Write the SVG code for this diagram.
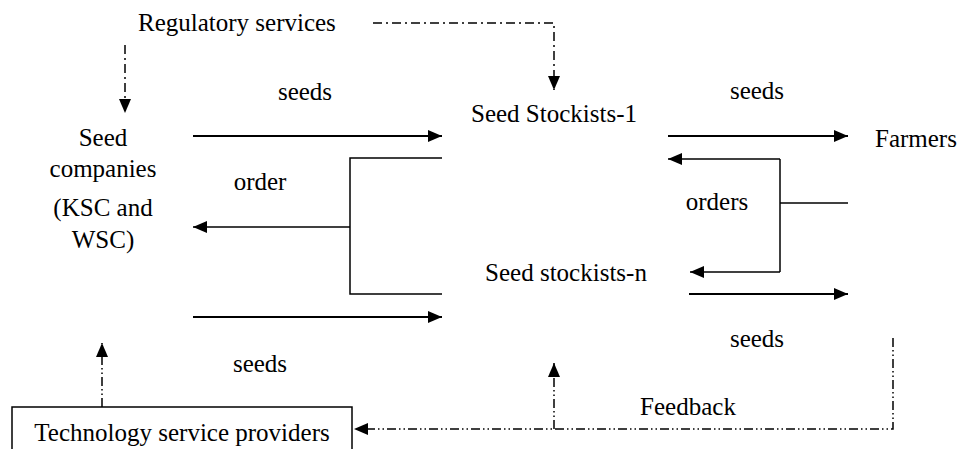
<svg xmlns="http://www.w3.org/2000/svg" width="958" height="449" viewBox="0 0 958 449">
<style>
text{font-family:'Liberation Serif','Times New Roman',Times,serif;font-size:25px;fill:#000}
.s{stroke:#000;stroke-width:2;fill:none}
.t{stroke:#000;stroke-width:1.5;fill:none}
.d{stroke:#000;stroke-width:1.5;fill:none;stroke-dasharray:9 4 2 4}
.dd{stroke:#000;stroke-width:1.5;fill:none;stroke-dasharray:9 3 1.5 3 1.5 3}
</style>
<defs>
<marker id="ah" viewBox="0 0 14 12" refX="14" refY="6" markerWidth="14" markerHeight="12" markerUnits="userSpaceOnUse" orient="auto">
<path d="M0,0 L14,6 L0,12 z" fill="#000"/>
</marker>
</defs>
<rect width="958" height="449" fill="#fff"/>
<g font-family="Liberation Serif, Times New Roman, serif">
<g id="regulatory"><text x="138" y="31">Regulatory services</text></g>
<g id="seed-companies">
<text x="103" y="146" text-anchor="middle">Seed</text>
<text x="103" y="177" text-anchor="middle">companies</text>
<text x="103" y="216" text-anchor="middle">(KSC and</text>
<text x="103" y="248" text-anchor="middle">WSC)</text>
</g>
<g id="stockists-1"><text x="554" y="122" text-anchor="middle">Seed Stockists-1</text></g>
<g id="stockists-n"><text x="566" y="281" text-anchor="middle">Seed stockists-n</text></g>
<g id="farmers"><text x="875" y="147">Farmers</text></g>
<g id="tech">
<rect x="12" y="407" width="340" height="60" fill="none" stroke="#000" stroke-width="1.5"/>
<text x="182" y="441" text-anchor="middle">Technology service providers</text>
</g>
<g id="labels">
<text x="305" y="100" text-anchor="middle">seeds</text>
<text x="260" y="190" text-anchor="middle">order</text>
<text x="260" y="372" text-anchor="middle">seeds</text>
<text x="757" y="99" text-anchor="middle">seeds</text>
<text x="717" y="210" text-anchor="middle">orders</text>
<text x="757" y="347" text-anchor="middle">seeds</text>
<text x="688" y="415" text-anchor="middle">Feedback</text>
</g>
</g>
<g id="connectors">
<line class="s" x1="193" y1="136" x2="442" y2="136" marker-end="url(#ah)"/>
<path class="t" d="M442,158 H350 V294 H442"/>
<line class="t" x1="350" y1="227" x2="193" y2="227" marker-end="url(#ah)"/>
<line class="s" x1="193" y1="317" x2="442" y2="317" marker-end="url(#ah)"/>
<line class="s" x1="668" y1="136" x2="848" y2="136" marker-end="url(#ah)"/>
<path class="t" d="M780,159 V272"/>
<line class="t" x1="780" y1="159" x2="668" y2="159" marker-end="url(#ah)"/>
<line class="t" x1="780" y1="272" x2="690" y2="272" marker-end="url(#ah)"/>
<line class="t" x1="780" y1="203" x2="848" y2="203"/>
<line class="s" x1="689" y1="294" x2="848" y2="294" marker-end="url(#ah)"/>
<path class="d" d="M373,23 H554 V90" marker-end="url(#ah)"/>
<line class="d" x1="125" y1="45" x2="125" y2="113" marker-end="url(#ah)"/>
<line class="dd" x1="102" y1="407" x2="102" y2="343" marker-end="url(#ah)"/>
<path class="dd" d="M893,338 V429 H354" marker-end="url(#ah)"/>
<line class="dd" x1="554" y1="429" x2="554" y2="363" marker-end="url(#ah)"/>
</g>
</svg>
